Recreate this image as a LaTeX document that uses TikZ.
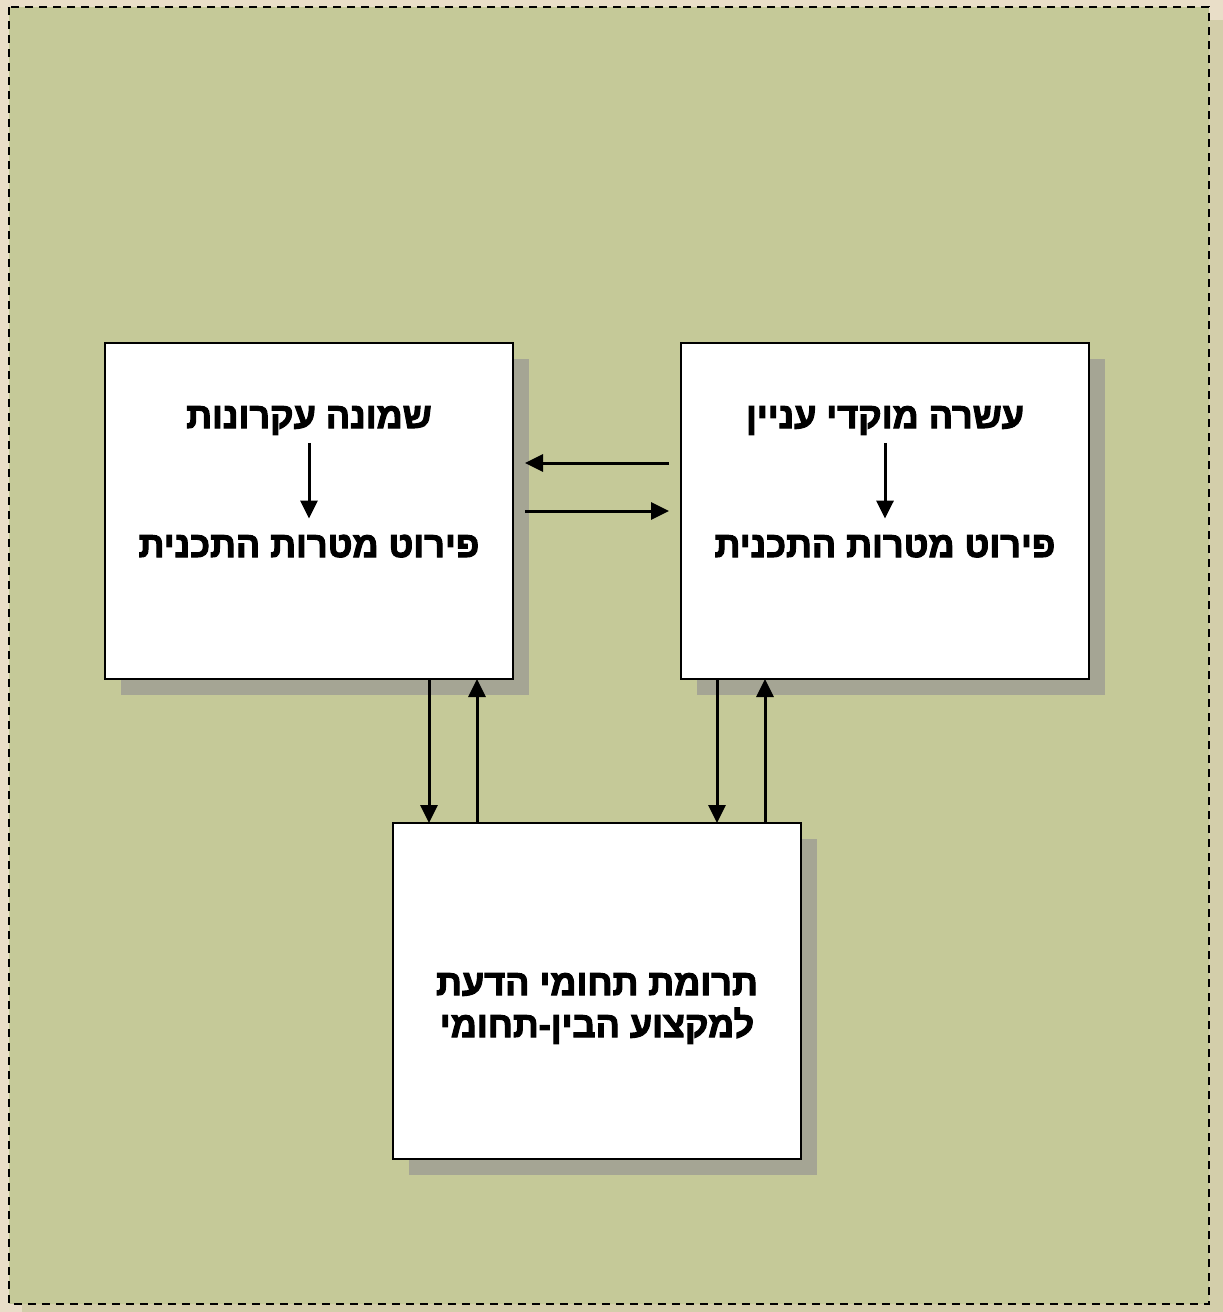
\documentclass[tikz,border=0pt]{standalone}
\usepackage{fontspec}
\newfontfamily\hebfont[Script=Hebrew,BoldFeatures={FakeBold=3}]{Liberation Sans}
\TeXXeTstate=1
\usetikzlibrary{positioning, shadows, arrows.meta}

\definecolor{pagebeige}{HTML}{E9DEC8}
\definecolor{sheetolive}{HTML}{C5C998}
\definecolor{sheetshade}{HTML}{D3CEAA}
\definecolor{panelshade}{HTML}{A5A594}

\begin{document}
\begin{tikzpicture}[x=1pt,y=-1pt,
        >={Triangle[length=18pt,width=17pt]},
        panel/.style={rectangle,draw=black,line width=2.5pt,fill=white,inner sep=0pt,outer sep=0pt,
            minimum width=408pt,minimum height=336pt,
            drop shadow={shadow xshift=16pt,shadow yshift=-16pt,fill=panelshade,opacity=1}},
        heading/.style={font=\hebfont\bfseries\fontsize{36}{44}\selectfont,inner sep=0pt,anchor=base},
        link/.style={->,line width=3pt}]
        % sheet
        \fill[pagebeige] (0,0) rectangle (1223,1312);
        \fill[sheetshade] (22,20) rectangle (1223,1312);
        \draw[dashed,dash pattern=on 8pt off 6pt,line width=2.5pt,fill=sheetolive] (9,7) rectangle (1209,1304);

        \node[panel] (eight) at (309,511) {};
        \node[panel] (ten) at (885,511) {};
        \node[panel] (contrib) at (597,991) {};

        \node[heading] (eightA) at (309,428) {\beginR שמונה עקרונות\endR};
        \node[heading] (eightB) at (309,557) {\beginR פירוט מטרות התכנית\endR};
        \node[heading] (tenA) at (885,428) {\beginR עשרה מוקדי עניין\endR};
        \node[heading] (tenB) at (885,557) {\beginR פירוט מטרות התכנית\endR};
        \node[heading] (contribA) at (597,995) {\beginR תרומת תחומי הדעת\endR};
        \node[heading] (contribB) at (597,1037) {\beginR למקצוע הבין-תחומי\endR};

        \path[link] (eightA) edge [shorten <=8pt,shorten >=16pt] (eightB)
                    (tenA) edge [shorten <=8pt,shorten >=16pt] (tenB)
                    ([yshift=48pt]ten.west) edge [shorten <=12pt,shorten >=12pt] ([yshift=48pt]eight.east)
                    (eight.east) edge [shorten <=12pt,shorten >=12pt] (ten.west)
                    ([xshift=120pt]eight.south) edge ([xshift=-168pt]contrib.north)
                    ([xshift=-120pt]contrib.north) edge ([xshift=168pt]eight.south)
                    ([xshift=-168pt]ten.south) edge ([xshift=120pt]contrib.north)
                    ([xshift=168pt]contrib.north) edge ([xshift=-120pt]ten.south);
\end{tikzpicture}
\end{document}
